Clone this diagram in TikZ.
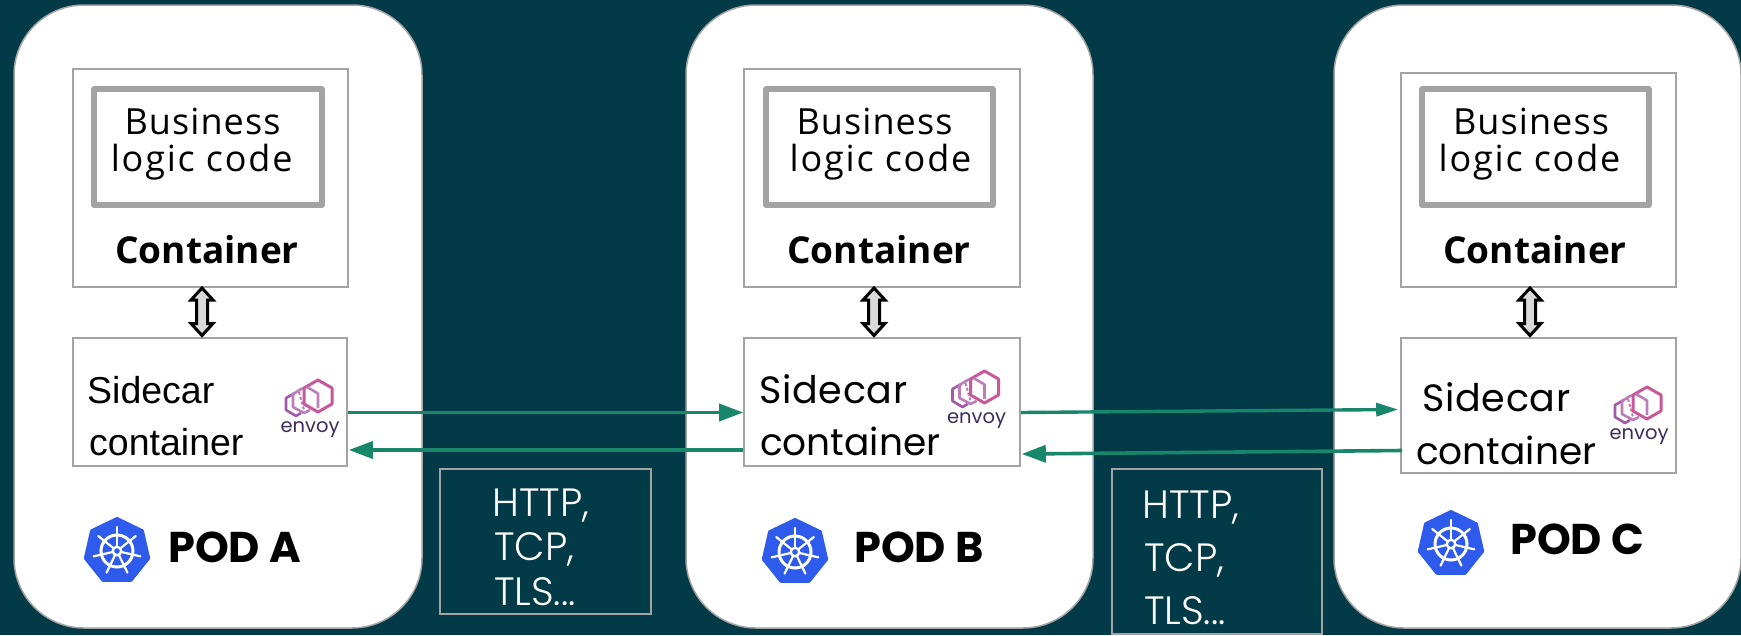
\documentclass[tikz,border=0pt]{standalone}
\usepackage{fontspec}
\usetikzlibrary{arrows.meta}
\setmainfont{Open Sans}
\newfontfamily\popfont{Poppins}
\newfontfamily\popwide{Poppins}[LetterSpace=2]
\newfontfamily\poplight{Poppins}[UprightFont=* Light]
\newfontfamily\rbfont{Liberation Sans}
\newfontfamily\bizfont{Open Sans}[LetterSpace=3]
\newfontfamily\logfont{Open Sans}[LetterSpace=5]
\definecolor{bgc}{HTML}{023A47}
\definecolor{rimc}{HTML}{A3A3A3}
\definecolor{flowc}{HTML}{17866A}
\definecolor{kubec}{HTML}{2E5BEB}
\definecolor{envA}{HTML}{C9589A}
\definecolor{envB}{HTML}{BC7DB8}
\definecolor{envC}{HTML}{A25AA8}
\definecolor{envT}{HTML}{3C2D5C}
\tikzset{
  x=1pt,y=-1pt,
  podbox/.style={draw=rimc,line width=1.5pt,fill=white,rounded corners=70pt},
  cbox/.style={draw=rimc,line width=1.6pt,fill=white,inner sep=0pt},
  codebox/.style={draw=rimc,line width=5.5pt,line join=round,fill=white,inner sep=0pt},
  protobox/.style={draw=rimc,line width=1.6pt,inner sep=0pt},
  txt/.style={inner sep=0pt,anchor=base west,text=black},
  ctxt/.style={inner sep=0pt,anchor=base,text=black},
  biz/.style={ctxt,font=\bizfont\fontsize{36}{37}\selectfont},
  logic/.style={ctxt,font=\logfont\fontsize{36}{37}\selectfont},
  ctitle/.style={ctxt,font=\bfseries\fontsize{37}{38}\selectfont},
  sideR/.style={txt,font=\rbfont\fontsize{37.5}{38}\selectfont},
  sideP/.style={txt,font=\popwide\fontsize{38}{38}\selectfont},
  sideQ/.style={txt,font=\popfont\fontsize{37.5}{38}\selectfont},
  podt/.style={txt,font=\popfont\bfseries\fontsize{43}{44}\selectfont},
  proto/.style={txt,text=white,font=\poplight\fontsize{39.5}{40}\selectfont},
  flow/.style={draw=flowc,line width=3.6pt,-{Triangle[length=24pt,width=17pt,fill=flowc]}},
  flowthin/.style={draw=flowc,line width=3.4pt,-{Triangle[length=22pt,width=13pt,fill=flowc]}},
  dbl/.style={draw=black,line width=3pt,fill=black!15,line join=miter},
  kube/.pic={
    \path[fill=kubec,draw=kubec,line width=3pt,line join=round]
      (-90:32.5) -- (-90+360/7:32.5) -- (-90+720/7:32.5) -- (-90+1080/7:32.5)
      -- (-90+1440/7:32.5) -- (-90+1800/7:32.5) -- (-90+2160/7:32.5) -- cycle;
    \draw[white,line width=3pt] (0,0) circle (16);
    \foreach \k in {0,...,6}{
      \draw[white,line width=2.2pt,line cap=round] (-90+\k*360/7:4) -- (-90+\k*360/7:24);
    }
    \fill[white] (0,0) circle (5.5);
    \fill[kubec] (0,0) circle (2.8);
  },
  envoy/.pic={
    \draw[envC,line width=2.6pt,line join=round]
      (-15,-39) -- (-24,-34) -- (-24,-22) -- (-14,-16) -- (-9,-19);
    \draw[envB,line width=2.6pt,line join=round]
      (-6,-43) -- (-8,-43.5) -- (-17,-38) -- (-17,-25) -- (-6,-19) -- (0,-22);
    \draw[envB,line width=2pt,dash pattern=on 3pt off 2pt] (-11,-40) -- (-6,-22);
    \path[fill=white] (8,-52) -- (22,-44) -- (22,-28) -- (8,-20) -- (-6,-28) -- (-6,-44) -- cycle;
    \draw[envA,line width=3pt,line join=round]
      (8,-52) -- (22,-44) -- (22,-28) -- (8,-20) -- (-6,-28) -- (-6,-44) -- cycle;
    \draw[envB,line width=2.6pt,line join=round] (-3,-45) -- (8,-38.5) -- (8,-24);
    \node[ctxt,text=envT,font=\popfont\fontsize{19.5}{20}\selectfont] (-label) at (0,0) {envoy};
  }
}
\newcommand{\dblarrow}[1]{%
  \draw[dbl] (#1,288) -- (#1+11,300) -- (#1+5.5,300) -- (#1+5.5,323.5) -- (#1+11,323.5)
    -- (#1,335.5) -- (#1-11,323.5) -- (#1-5.5,323.5) -- (#1-5.5,300) -- (#1-11,300) -- cycle;}
\begin{document}
\begin{tikzpicture}
\path[use as bounding box,fill=bgc] (0,0) rectangle (1741,635);
% pods
\path[podbox] (14,5) rectangle (422,628);
\path[podbox] (686,5) rectangle (1093,628);
\path[podbox] (1334,5) rectangle (1741,628);
% protocol boxes
\node[protobox,minimum width=211pt,minimum height=145pt] (protoA) at (545.5,541.5) {};
\node[protobox,minimum width=210pt,minimum height=165pt] (protoB) at (1217,551.5) {};
% business containers
\node[cbox,minimum width=275pt,minimum height=218pt] (contA) at (210.5,178) {};
\node[cbox,minimum width=276pt,minimum height=218pt] (contB) at (882,178) {};
\node[cbox,minimum width=275pt,minimum height=214pt] (contC) at (1538.5,180) {};
\node[codebox,minimum width=228pt,minimum height=116pt] (codeA) at (208,147) {};
\node[codebox,minimum width=227pt,minimum height=116pt] (codeB) at (879.5,147) {};
\node[codebox,minimum width=227pt,minimum height=116pt] (codeC) at (1535.5,147) {};
% sidecars
\node[cbox,minimum width=274pt,minimum height=128pt] (sideA) at (210,402) {};
\node[cbox,minimum width=276pt,minimum height=128pt] (sideB) at (882,402) {};
\node[cbox,minimum width=275pt,minimum height=135pt] (sideC) at (1538.5,405.5) {};
% texts
\node[biz] (bizA) at (202.5,134) {Business};
\node[logic] (logA) at (201.7,171) {logic code};
\node[ctitle] (titA) at (207,263) {Container};
\node[biz] (bizB) at (874.5,134) {Business};
\node[logic] (logB) at (880.5,171) {logic code};
\node[ctitle] (titB) at (879,263) {Container};
\node[biz] (bizC) at (1531,134) {Business};
\node[logic] (logC) at (1529.5,171) {logic code};
\node[ctitle] (titC) at (1535,263) {Container};
\node[sideR] (scA1) at (87,403) {Sidecar};
\node[sideR] (scA2) at (89,455) {container};
\node[sideP] (scB1) at (759,403) {Sidecar};
\node[sideQ] (scB2) at (760,455) {container};
\node[sideP] (scC1) at (1422,411) {Sidecar};
\node[sideQ] (scC2) at (1416,464) {container};
\node[podt] (podA) at (168,562) {POD A};
\node[podt] (podB) at (854,562) {POD B};
\node[podt] (podC) at (1510,554) {POD C};
\node[proto] (pa1) at (492,516) {HTTP,};
\node[proto] (pa2) at (494,560) {TCP,};
\node[proto] (pa3) at (494,605) {TLS...};
\node[proto] (pb1) at (1142,518) {HTTP,};
\node[proto] (pb2) at (1144,571) {TCP,};
\node[proto] (pb3) at (1144,624) {TLS...};
% icons
\pic (kA) at (117,551) {kube};
\pic (kB) at (795,552) {kube};
\pic (kC) at (1451,544) {kube};
\pic (eA) at (310,432) {envoy};
\pic (eB) at (976.5,423) {envoy};
\pic (eC) at (1639,439) {envoy};
% double arrows
\dblarrow{202}
\dblarrow{874}
\dblarrow{1530}
% flows
\draw[flow] ([yshift=-10.5pt]sideA.east) -- ([yshift=-10.5pt]sideB.west);
\draw[flow] ([yshift=-48pt]sideB.west) -- ([xshift=1pt,yshift=-48pt]sideA.east);
\draw[flowthin] ([yshift=-10.5pt]sideB.east) -- ([xshift=-2pt,yshift=-4pt]sideC.west);
\draw[flow] ([xshift=2pt,yshift=-45pt]sideC.west) -- ([xshift=1pt,yshift=-52pt]sideB.east);
\end{tikzpicture}
\end{document}
